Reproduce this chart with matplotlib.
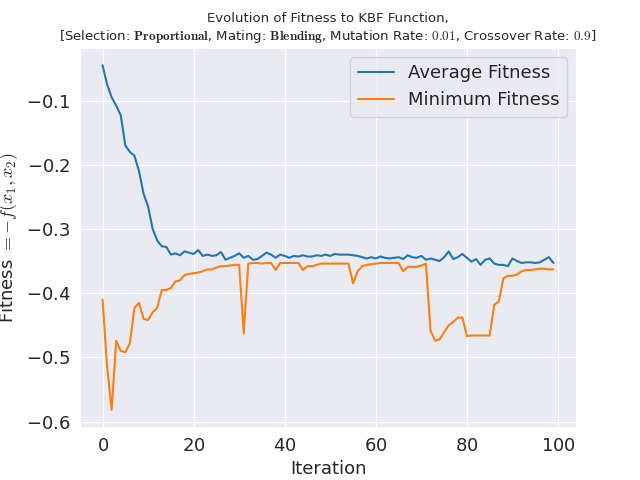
import matplotlib
matplotlib.use("Agg")
import matplotlib.pyplot as plt
import seaborn as sns

sns.set_style("darkgrid")
plt.rcParams["font.family"] = ["DejaVu Sans"]
plt.rcParams["mathtext.fontset"] = "cm"
plt.rcParams["axes.formatter.use_mathtext"] = True

avg_fitness = [
    -0.045, -0.075, -0.095, -0.108, -0.123, -0.170, -0.180, -0.186, -0.210, -0.245,
    -0.265, -0.300, -0.318, -0.327, -0.328, -0.340, -0.338, -0.341, -0.335, -0.337,
    -0.339, -0.333, -0.342, -0.340, -0.342, -0.341, -0.336, -0.348, -0.345, -0.342,
    -0.338, -0.345, -0.342, -0.348, -0.347, -0.342, -0.337, -0.340, -0.345, -0.340,
    -0.342, -0.345, -0.342, -0.343, -0.341, -0.343, -0.343, -0.341, -0.342, -0.340,
    -0.342, -0.339, -0.340, -0.340, -0.340, -0.341, -0.342, -0.344, -0.346, -0.344,
    -0.346, -0.343, -0.345, -0.346, -0.345, -0.344, -0.347, -0.341, -0.344, -0.345,
    -0.342, -0.348, -0.346, -0.348, -0.350, -0.344, -0.335, -0.347, -0.344, -0.339,
    -0.345, -0.351, -0.347, -0.356, -0.348, -0.346, -0.354, -0.356, -0.356, -0.358,
    -0.346, -0.350, -0.353, -0.352, -0.352, -0.353, -0.352, -0.348, -0.344, -0.353,
]
min_fitness = [
    -0.410, -0.515, -0.582, -0.474, -0.490, -0.492, -0.478, -0.423, -0.415, -0.440,
    -0.442, -0.430, -0.423, -0.395, -0.395, -0.392, -0.382, -0.380, -0.372, -0.370,
    -0.369, -0.368, -0.366, -0.363, -0.363, -0.360, -0.358, -0.358, -0.357, -0.356,
    -0.356, -0.463, -0.354, -0.353, -0.353, -0.354, -0.353, -0.353, -0.364, -0.353,
    -0.353, -0.353, -0.353, -0.353, -0.364, -0.358, -0.358, -0.356, -0.354, -0.354,
    -0.354, -0.354, -0.354, -0.354, -0.354, -0.385, -0.366, -0.358, -0.356, -0.355,
    -0.354, -0.353, -0.353, -0.353, -0.353, -0.353, -0.366, -0.359, -0.359, -0.359,
    -0.357, -0.354, -0.458, -0.474, -0.472, -0.461, -0.450, -0.445, -0.438, -0.438,
    -0.467, -0.466, -0.466, -0.466, -0.466, -0.466, -0.418, -0.413, -0.377, -0.373,
    -0.373, -0.371, -0.366, -0.364, -0.364, -0.363, -0.362, -0.362, -0.363, -0.363,
]
iterations = list(range(len(avg_fitness)))

fig, ax = plt.subplots(figsize=(6.4, 4.8))
ax.plot(iterations, avg_fitness, label="Average Fitness")
ax.plot(iterations, min_fitness, label="Minimum Fitness")
ax.set_xlabel("Iteration", fontsize=13)
ax.set_ylabel(r"Fitness $= -f(x_1, x_2)$", fontsize=13)
ax.tick_params(labelsize=13)
ax.set_title("Evolution of Fitness to KBF Function,\n"
             r"[Selection: $\mathbf{Proportional}$, Mating: $\mathbf{Blending}$, "
             r"Mutation Rate: $\mathbf{0.01}$, Crossover Rate: $\mathbf{0.9}$]",
             fontsize=9.5)
ax.legend(fontsize=13)
fig.subplots_adjust(left=0.125, right=0.9, top=0.9, bottom=0.11)
fig.savefig("out.png", dpi=100)
